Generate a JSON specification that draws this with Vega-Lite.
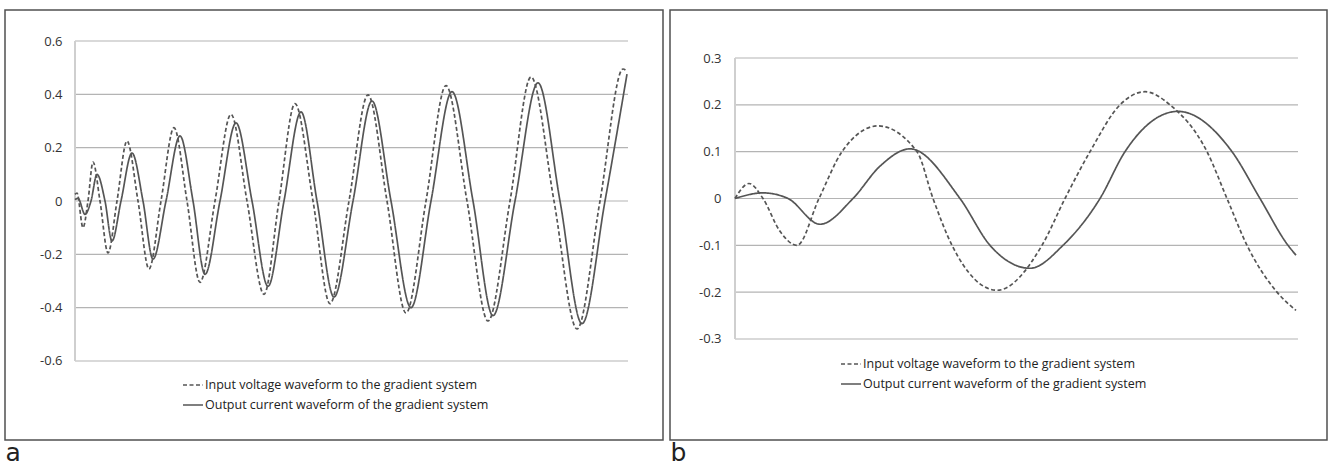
{
  "$schema": "https://vega.github.io/schema/vega-lite/v6.json",
  "padding": {"left": 4, "top": 9, "right": 0, "bottom": 0},
  "background": "white",
  "datasets": {
    "waveA": [
      {"t": 0, "v": 0.025, "series": "Input voltage waveform to the gradient system"},
      {"t": 2, "v": 0.03, "series": "Input voltage waveform to the gradient system"},
      {"t": 8, "v": -0.1, "series": "Input voltage waveform to the gradient system"},
      {"t": 13, "v": 0, "series": "Input voltage waveform to the gradient system"},
      {"t": 18, "v": 0.146, "series": "Input voltage waveform to the gradient system"},
      {"t": 25, "v": 0, "series": "Input voltage waveform to the gradient system"},
      {"t": 33, "v": -0.195, "series": "Input voltage waveform to the gradient system"},
      {"t": 42, "v": 0, "series": "Input voltage waveform to the gradient system"},
      {"t": 52, "v": 0.225, "series": "Input voltage waveform to the gradient system"},
      {"t": 63, "v": 0, "series": "Input voltage waveform to the gradient system"},
      {"t": 74, "v": -0.255, "series": "Input voltage waveform to the gradient system"},
      {"t": 86, "v": 0, "series": "Input voltage waveform to the gradient system"},
      {"t": 99, "v": 0.275, "series": "Input voltage waveform to the gradient system"},
      {"t": 112, "v": 0, "series": "Input voltage waveform to the gradient system"},
      {"t": 125, "v": -0.305, "series": "Input voltage waveform to the gradient system"},
      {"t": 140, "v": 0, "series": "Input voltage waveform to the gradient system"},
      {"t": 156, "v": 0.325, "series": "Input voltage waveform to the gradient system"},
      {"t": 172, "v": 0, "series": "Input voltage waveform to the gradient system"},
      {"t": 189, "v": -0.35, "series": "Input voltage waveform to the gradient system"},
      {"t": 204, "v": 0, "series": "Input voltage waveform to the gradient system"},
      {"t": 220, "v": 0.365, "series": "Input voltage waveform to the gradient system"},
      {"t": 238, "v": 0, "series": "Input voltage waveform to the gradient system"},
      {"t": 255, "v": -0.385, "series": "Input voltage waveform to the gradient system"},
      {"t": 274, "v": 0, "series": "Input voltage waveform to the gradient system"},
      {"t": 293, "v": 0.398, "series": "Input voltage waveform to the gradient system"},
      {"t": 312, "v": 0, "series": "Input voltage waveform to the gradient system"},
      {"t": 331, "v": -0.42, "series": "Input voltage waveform to the gradient system"},
      {"t": 351, "v": 0, "series": "Input voltage waveform to the gradient system"},
      {"t": 371, "v": 0.433, "series": "Input voltage waveform to the gradient system"},
      {"t": 392, "v": 0, "series": "Input voltage waveform to the gradient system"},
      {"t": 413, "v": -0.45, "series": "Input voltage waveform to the gradient system"},
      {"t": 435, "v": 0, "series": "Input voltage waveform to the gradient system"},
      {"t": 456, "v": 0.465, "series": "Input voltage waveform to the gradient system"},
      {"t": 479, "v": 0, "series": "Input voltage waveform to the gradient system"},
      {"t": 502, "v": -0.48, "series": "Input voltage waveform to the gradient system"},
      {"t": 525, "v": 0, "series": "Input voltage waveform to the gradient system"},
      {"t": 548, "v": 0.495, "series": "Input voltage waveform to the gradient system"},
      {"t": 552, "v": 0.487, "series": "Input voltage waveform to the gradient system"},
      {"t": 0, "v": 0.005, "series": "Output current waveform of the gradient system"},
      {"t": 3, "v": 0.01, "series": "Output current waveform of the gradient system"},
      {"t": 10, "v": -0.05, "series": "Output current waveform of the gradient system"},
      {"t": 16, "v": 0, "series": "Output current waveform of the gradient system"},
      {"t": 22, "v": 0.1, "series": "Output current waveform of the gradient system"},
      {"t": 30, "v": 0, "series": "Output current waveform of the gradient system"},
      {"t": 37, "v": -0.15, "series": "Output current waveform of the gradient system"},
      {"t": 46, "v": 0, "series": "Output current waveform of the gradient system"},
      {"t": 57, "v": 0.18, "series": "Output current waveform of the gradient system"},
      {"t": 68, "v": 0, "series": "Output current waveform of the gradient system"},
      {"t": 78, "v": -0.218, "series": "Output current waveform of the gradient system"},
      {"t": 91, "v": 0, "series": "Output current waveform of the gradient system"},
      {"t": 105, "v": 0.244, "series": "Output current waveform of the gradient system"},
      {"t": 118, "v": 0, "series": "Output current waveform of the gradient system"},
      {"t": 130, "v": -0.275, "series": "Output current waveform of the gradient system"},
      {"t": 145, "v": 0, "series": "Output current waveform of the gradient system"},
      {"t": 161, "v": 0.293, "series": "Output current waveform of the gradient system"},
      {"t": 177, "v": 0, "series": "Output current waveform of the gradient system"},
      {"t": 193, "v": -0.32, "series": "Output current waveform of the gradient system"},
      {"t": 209, "v": 0, "series": "Output current waveform of the gradient system"},
      {"t": 226, "v": 0.334, "series": "Output current waveform of the gradient system"},
      {"t": 242, "v": 0, "series": "Output current waveform of the gradient system"},
      {"t": 259, "v": -0.36, "series": "Output current waveform of the gradient system"},
      {"t": 278, "v": 0, "series": "Output current waveform of the gradient system"},
      {"t": 297, "v": 0.375, "series": "Output current waveform of the gradient system"},
      {"t": 316, "v": 0, "series": "Output current waveform of the gradient system"},
      {"t": 336, "v": -0.4, "series": "Output current waveform of the gradient system"},
      {"t": 356, "v": 0, "series": "Output current waveform of the gradient system"},
      {"t": 377, "v": 0.41, "series": "Output current waveform of the gradient system"},
      {"t": 398, "v": 0, "series": "Output current waveform of the gradient system"},
      {"t": 418, "v": -0.43, "series": "Output current waveform of the gradient system"},
      {"t": 440, "v": 0, "series": "Output current waveform of the gradient system"},
      {"t": 463, "v": 0.443, "series": "Output current waveform of the gradient system"},
      {"t": 485, "v": 0, "series": "Output current waveform of the gradient system"},
      {"t": 507, "v": -0.46, "series": "Output current waveform of the gradient system"},
      {"t": 530, "v": 0, "series": "Output current waveform of the gradient system"},
      {"t": 552, "v": 0.476, "series": "Output current waveform of the gradient system"}
    ],
    "waveB": [
      {"t": 0, "v": 0, "series": "Input voltage waveform to the gradient system"},
      {"t": 14, "v": 0.032, "series": "Input voltage waveform to the gradient system"},
      {"t": 28, "v": 0, "series": "Input voltage waveform to the gradient system"},
      {"t": 45, "v": -0.07, "series": "Input voltage waveform to the gradient system"},
      {"t": 62, "v": -0.1, "series": "Input voltage waveform to the gradient system"},
      {"t": 84, "v": 0, "series": "Input voltage waveform to the gradient system"},
      {"t": 107, "v": 0.1, "series": "Input voltage waveform to the gradient system"},
      {"t": 143, "v": 0.155, "series": "Input voltage waveform to the gradient system"},
      {"t": 182, "v": 0.1, "series": "Input voltage waveform to the gradient system"},
      {"t": 198, "v": 0, "series": "Input voltage waveform to the gradient system"},
      {"t": 217, "v": -0.1, "series": "Input voltage waveform to the gradient system"},
      {"t": 262, "v": -0.196, "series": "Input voltage waveform to the gradient system"},
      {"t": 307, "v": -0.1, "series": "Input voltage waveform to the gradient system"},
      {"t": 330, "v": 0, "series": "Input voltage waveform to the gradient system"},
      {"t": 355, "v": 0.1, "series": "Input voltage waveform to the gradient system"},
      {"t": 385, "v": 0.2, "series": "Input voltage waveform to the gradient system"},
      {"t": 410, "v": 0.228, "series": "Input voltage waveform to the gradient system"},
      {"t": 435, "v": 0.2, "series": "Input voltage waveform to the gradient system"},
      {"t": 472, "v": 0.1, "series": "Input voltage waveform to the gradient system"},
      {"t": 492, "v": 0, "series": "Input voltage waveform to the gradient system"},
      {"t": 512, "v": -0.1, "series": "Input voltage waveform to the gradient system"},
      {"t": 542, "v": -0.2, "series": "Input voltage waveform to the gradient system"},
      {"t": 561, "v": -0.239, "series": "Input voltage waveform to the gradient system"},
      {"t": 0, "v": 0, "series": "Output current waveform of the gradient system"},
      {"t": 28, "v": 0.012, "series": "Output current waveform of the gradient system"},
      {"t": 53, "v": 0, "series": "Output current waveform of the gradient system"},
      {"t": 85, "v": -0.055, "series": "Output current waveform of the gradient system"},
      {"t": 118, "v": 0, "series": "Output current waveform of the gradient system"},
      {"t": 145, "v": 0.069, "series": "Output current waveform of the gradient system"},
      {"t": 175, "v": 0.106, "series": "Output current waveform of the gradient system"},
      {"t": 225, "v": 0, "series": "Output current waveform of the gradient system"},
      {"t": 255, "v": -0.1, "series": "Output current waveform of the gradient system"},
      {"t": 295, "v": -0.149, "series": "Output current waveform of the gradient system"},
      {"t": 328, "v": -0.1, "series": "Output current waveform of the gradient system"},
      {"t": 365, "v": 0, "series": "Output current waveform of the gradient system"},
      {"t": 390, "v": 0.1, "series": "Output current waveform of the gradient system"},
      {"t": 443, "v": 0.186, "series": "Output current waveform of the gradient system"},
      {"t": 497, "v": 0.1, "series": "Output current waveform of the gradient system"},
      {"t": 525, "v": 0, "series": "Output current waveform of the gradient system"},
      {"t": 553, "v": -0.1, "series": "Output current waveform of the gradient system"},
      {"t": 561, "v": -0.121, "series": "Output current waveform of the gradient system"}
    ],
    "gridA": [{"g": -0.6}, {"g": -0.4}, {"g": -0.2}, {"g": 0}, {"g": 0.2}, {"g": 0.4}, {"g": 0.6}],
    "gridB": [{"g": -0.3}, {"g": -0.2}, {"g": -0.1}, {"g": 0}, {"g": 0.1}, {"g": 0.2}, {"g": 0.3}]
  },
  "hconcat": [
    {
      "width": 658,
      "height": 430,
      "layer": [
        {
          "data": {"name": "gridA"},
          "mark": {"type": "rule", "stroke": "#b4b4b4", "strokeWidth": 1.2},
          "encoding": {
            "x": {"datum": 0, "type": "quantitative", "scale": {"domain": [-70, 588], "nice": false, "zero": false},
              "axis": {"title": "a", "labels": false, "ticks": false, "domain": false, "grid": false, "titleAnchor": "start", "titleAlign": "left", "titleFontSize": 25, "titleFontWeight": "normal", "titleFont": "DejaVu Sans", "titleColor": "#222", "titlePadding": 0}},
            "x2": {"datum": 553},
            "y": {"field": "g", "type": "quantitative", "scale": {"domain": [-0.8963, 0.7163], "nice": false, "zero": false},
              "axis": {"title": null, "values": [-0.6, -0.4, -0.2, 0, 0.2, 0.4, 0.6], "labelExpr": "toString(datum.value)", "ticks": false, "tickSize": 0, "domain": false, "grid": false, "offset": -57, "labelPadding": 0, "labelFont": "Open Sans", "labelFontSize": 13, "labelColor": "#333"}}
          }
        },
        {
          "data": {"name": "gridA"},
          "mark": {"type": "rule", "stroke": "#cfcfcf", "strokeWidth": 1.2},
          "encoding": {
            "x": {"datum": 0, "type": "quantitative",
              "axis": {"title": "a", "labels": false, "ticks": false, "domain": false, "grid": false, "titleAnchor": "start", "titleAlign": "left", "titleFontSize": 25, "titleFontWeight": "normal", "titleFont": "DejaVu Sans", "titleColor": "#222", "titlePadding": 0}},
            "y": {"datum": -0.6, "type": "quantitative",
              "axis": {"title": null, "values": [-0.6, -0.4, -0.2, 0, 0.2, 0.4, 0.6], "labelExpr": "toString(datum.value)", "ticks": false, "tickSize": 0, "domain": false, "grid": false, "offset": -57, "labelPadding": 0, "labelFont": "Open Sans", "labelFontSize": 13, "labelColor": "#333"}},
            "y2": {"datum": 0.6}
          }
        },
        {
          "data": {"name": "waveA"},
          "mark": {"type": "line", "interpolate": "monotone", "stroke": "#555555", "strokeWidth": 1.7},
          "encoding": {
            "x": {"field": "t", "type": "quantitative", "scale": {"domain": [-70, 588], "nice": false, "zero": false},
              "axis": {"title": "a", "labels": false, "ticks": false, "domain": false, "grid": false, "titleAnchor": "start", "titleAlign": "left", "titleFontSize": 25, "titleFontWeight": "normal", "titleFont": "DejaVu Sans", "titleColor": "#222", "titlePadding": 0}},
            "y": {"field": "v", "type": "quantitative", "scale": {"domain": [-0.8963, 0.7163], "nice": false, "zero": false},
              "axis": {"title": null, "values": [-0.6, -0.4, -0.2, 0, 0.2, 0.4, 0.6], "labelExpr": "toString(datum.value)", "ticks": false, "tickSize": 0, "domain": false, "grid": false, "offset": -57, "labelPadding": 0, "labelFont": "Open Sans", "labelFontSize": 13, "labelColor": "#333"}},
            "strokeDash": {"field": "series", "type": "nominal",
              "scale": {"domain": ["Input voltage waveform to the gradient system", "Output current waveform of the gradient system"], "range": [[4, 2.5], [1, 0]]},
              "legend": {"orient": "none", "legendX": 177, "legendY": 364, "title": null, "direction": "vertical", "symbolType": "stroke", "symbolSize": 400, "symbolStrokeWidth": 1.5, "symbolStrokeColor": "#555555", "labelFont": "Open Sans", "labelFontSize": 12.5, "labelColor": "#222", "labelOffset": 1, "rowPadding": 2, "padding": 0}}
          }
        }
      ]
    },
    {
      "width": 657,
      "height": 430,
      "layer": [
        {
          "data": {"name": "gridB"},
          "mark": {"type": "rule", "stroke": "#b4b4b4", "strokeWidth": 1.2},
          "encoding": {
            "x": {"datum": 0, "type": "quantitative", "scale": {"domain": [-65, 592], "nice": false, "zero": false},
              "axis": {"title": "b", "labels": false, "ticks": false, "domain": false, "grid": false, "titleAnchor": "start", "titleAlign": "left", "titleFontSize": 25, "titleFontWeight": "normal", "titleFont": "DejaVu Sans", "titleColor": "#222", "titlePadding": 0}},
            "x2": {"datum": 563},
            "y": {"field": "g", "type": "quantitative", "scale": {"domain": [-0.5157, 0.4025], "nice": false, "zero": false},
              "axis": {"title": null, "values": [-0.3, -0.2, -0.1, 0, 0.1, 0.2, 0.3], "labelExpr": "toString(datum.value)", "ticks": false, "tickSize": 0, "domain": false, "grid": false, "offset": -51, "labelPadding": 0, "labelFont": "Open Sans", "labelFontSize": 13, "labelColor": "#333"}}
          }
        },
        {
          "data": {"name": "gridB"},
          "mark": {"type": "rule", "stroke": "#cfcfcf", "strokeWidth": 1.2},
          "encoding": {
            "x": {"datum": 0, "type": "quantitative",
              "axis": {"title": "b", "labels": false, "ticks": false, "domain": false, "grid": false, "titleAnchor": "start", "titleAlign": "left", "titleFontSize": 25, "titleFontWeight": "normal", "titleFont": "DejaVu Sans", "titleColor": "#222", "titlePadding": 0}},
            "y": {"datum": -0.3, "type": "quantitative",
              "axis": {"title": null, "values": [-0.3, -0.2, -0.1, 0, 0.1, 0.2, 0.3], "labelExpr": "toString(datum.value)", "ticks": false, "tickSize": 0, "domain": false, "grid": false, "offset": -51, "labelPadding": 0, "labelFont": "Open Sans", "labelFontSize": 13, "labelColor": "#333"}},
            "y2": {"datum": 0.3}
          }
        },
        {
          "data": {"name": "waveB"},
          "mark": {"type": "line", "interpolate": "monotone", "stroke": "#555555", "strokeWidth": 1.7},
          "encoding": {
            "x": {"field": "t", "type": "quantitative", "scale": {"domain": [-65, 592], "nice": false, "zero": false},
              "axis": {"title": "b", "labels": false, "ticks": false, "domain": false, "grid": false, "titleAnchor": "start", "titleAlign": "left", "titleFontSize": 25, "titleFontWeight": "normal", "titleFont": "DejaVu Sans", "titleColor": "#222", "titlePadding": 0}},
            "y": {"field": "v", "type": "quantitative", "scale": {"domain": [-0.5157, 0.4025], "nice": false, "zero": false},
              "axis": {"title": null, "values": [-0.3, -0.2, -0.1, 0, 0.1, 0.2, 0.3], "labelExpr": "toString(datum.value)", "ticks": false, "tickSize": 0, "domain": false, "grid": false, "offset": -51, "labelPadding": 0, "labelFont": "Open Sans", "labelFontSize": 13, "labelColor": "#333"}},
            "strokeDash": {"field": "series", "type": "nominal",
              "scale": {"domain": ["Input voltage waveform to the gradient system", "Output current waveform of the gradient system"], "range": [[4, 2.5], [1, 0]]},
              "legend": {"orient": "none", "legendX": 170, "legendY": 343, "title": null, "direction": "vertical", "symbolType": "stroke", "symbolSize": 400, "symbolStrokeWidth": 1.5, "symbolStrokeColor": "#555555", "labelFont": "Open Sans", "labelFontSize": 12.5, "labelColor": "#222", "labelOffset": 1, "rowPadding": 2, "padding": 0}}
          }
        }
      ]
    }
  ],
  "spacing": 5,
  "resolve": {"scale": {"x": "independent", "y": "independent", "strokeDash": "independent"}, "legend": {"strokeDash": "independent"}},
  "config": {
    "view": {"stroke": "#505050", "strokeWidth": 1.5},
    "legend": {"labelLimit": 400}
  }
}
